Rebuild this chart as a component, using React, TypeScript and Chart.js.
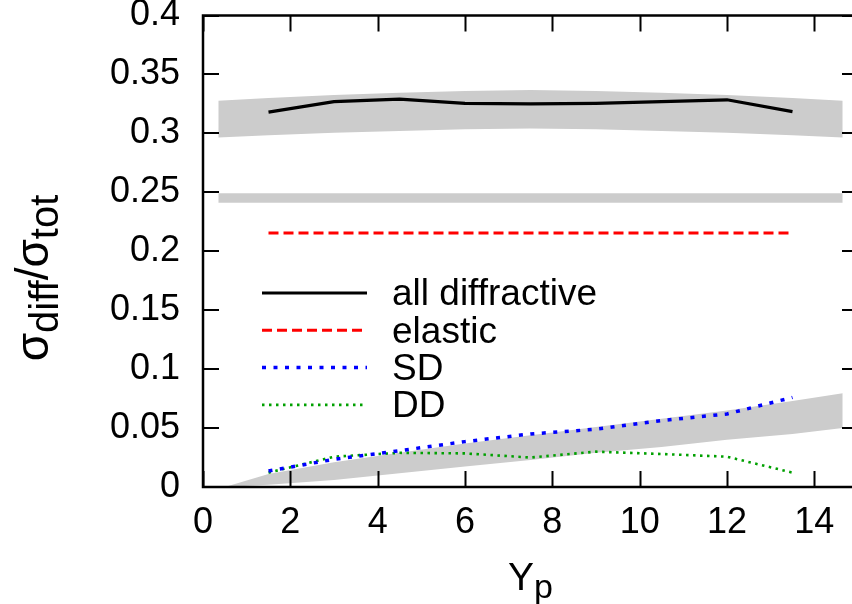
import React, { useEffect, useRef } from 'react';
import { Chart, registerables } from 'chart.js';

Chart.register(...registerables);

// ---- data ----
const xPoints = [1.5, 3, 4.5, 6, 7.5, 9, 10.5, 12, 13.5];
const allDiffractive = [0.318, 0.327, 0.329, 0.3255, 0.325, 0.3255, 0.327, 0.3285, 0.3185];
const elastic = [0.2155, 0.2155, 0.2155, 0.2155, 0.2155, 0.2155, 0.2155, 0.2155, 0.2155];
const sd = [0.0136, 0.0235, 0.0308, 0.0385, 0.045, 0.049, 0.0563, 0.062, 0.076];
const dd = [0.0122, 0.0257, 0.029, 0.0285, 0.025, 0.03, 0.028, 0.0257, 0.0122];

const topBandX = [0.35, 1.5, 3, 4.5, 6, 7.5, 9, 10.5, 12, 13.5, 14.65];
const topBandUpper = [0.3277, 0.33, 0.3325, 0.3345, 0.336, 0.3367, 0.336, 0.3345, 0.3325, 0.33, 0.3277];
const topBandLower = [0.2966, 0.2985, 0.3005, 0.302, 0.3035, 0.3042, 0.3035, 0.302, 0.3005, 0.2985, 0.2966];

const midBandX = [0.35, 14.65];
const midBandUpper = [0.2492, 0.2492];
const midBandLower = [0.2412, 0.2412];

const lowBandX = [0.5, 1.5, 3, 4.5, 6, 7.5, 9, 10.5, 12, 13.5, 14.65];
const lowBandUpper = [0, 0.011, 0.021, 0.029, 0.037, 0.044, 0.051, 0.058, 0.065, 0.073, 0.0795];
const lowBandLower = [0, 0.002, 0.006, 0.0117, 0.0173, 0.023, 0.029, 0.034, 0.04, 0.045, 0.05];

const xTickValues = [0, 2, 4, 6, 8, 10, 12, 14];
const yTickValues = [0, 0.05, 0.1, 0.15, 0.2, 0.25, 0.3, 0.35, 0.4];
const seriesLabels = ['all diffractive', 'elastic', 'SD', 'DD'];

const FONT = '"Liberation Sans", Arial, Helvetica, sans-serif';

const pts = (xs: number[], ys: number[]) => xs.map((x, i) => ({ x, y: ys[i] }));

const overlayPlugin = {
  id: 'overlay',
  afterDraw(chart: any) {
    const { ctx, chartArea: ca, scales } = chart;
    const x = scales.x;
    const y = scales.y;
    ctx.save();
    ctx.strokeStyle = '#000';
    ctx.lineWidth = 2;
    ctx.setLineDash([]);
    const tl = 16;
    ctx.beginPath();
    for (const v of xTickValues) {
      const px = Math.round(x.getPixelForValue(v)) + 0.5;
      ctx.moveTo(px, ca.bottom);
      ctx.lineTo(px, ca.bottom - tl);
      ctx.moveTo(px, ca.top);
      ctx.lineTo(px, ca.top + tl);
    }
    for (const v of yTickValues) {
      const py = Math.round(y.getPixelForValue(v));
      ctx.moveTo(ca.left, py);
      ctx.lineTo(ca.left + tl, py);
      ctx.moveTo(ca.right, py);
      ctx.lineTo(ca.right - tl, py);
    }
    ctx.stroke();
    ctx.lineWidth = 2.5;
    ctx.strokeRect(ca.left, ca.top, ca.right - ca.left, ca.bottom - ca.top);

    // legend
    const lineDatasets = chart.data.datasets.filter((d: any) => seriesLabels.includes(d.label));
    const lx0 = 262;
    const lx1 = 367;
    const tx = 392;
    let ly = 293;
    ctx.textAlign = 'left';
    ctx.textBaseline = 'middle';
    ctx.font = `37px ${FONT}`;
    ctx.fillStyle = '#000';
    for (const ds of lineDatasets) {
      ctx.save();
      ctx.strokeStyle = ds.borderColor;
      ctx.lineWidth = ds.borderWidth;
      ctx.setLineDash(ds.borderDash || []);
      ctx.lineCap = 'butt';
      ctx.beginPath();
      ctx.moveTo(lx0, ly);
      ctx.lineTo(lx1, ly);
      ctx.stroke();
      ctx.restore();
      ctx.fillText(ds.label, tx, ly + 2);
      ly += 37.3;
    }

    const drawRich = (parts: { t: string; size: number; dy: number }[], cx: number, cy: number, rot: number) => {
      ctx.save();
      ctx.translate(cx, cy);
      ctx.rotate(rot);
      ctx.textBaseline = 'alphabetic';
      ctx.textAlign = 'left';
      let total = 0;
      for (const p of parts) {
        ctx.font = `${p.size}px ${FONT}`;
        total += ctx.measureText(p.t).width;
      }
      let cur = -total / 2;
      for (const p of parts) {
        ctx.font = `${p.size}px ${FONT}`;
        ctx.fillText(p.t, cur, p.dy);
        cur += ctx.measureText(p.t).width;
      }
      ctx.restore();
    };
    drawRich(
      [
        { t: 'σ', size: 46, dy: 0 },
        { t: 'diff', size: 40, dy: 10 },
        { t: '/σ', size: 46, dy: 0 },
        { t: 'tot', size: 40, dy: 10 },
      ],
      48,
      278,
      -Math.PI / 2
    );
    drawRich(
      [
        { t: 'Y', size: 39, dy: 0 },
        { t: 'p', size: 34, dy: 8 },
      ],
      (ca.left + ca.right) / 2,
      590,
      0
    );
    ctx.restore();
  },
};

export default function App() {
  const ref = useRef<HTMLCanvasElement | null>(null);
  useEffect(() => {
    document.body.style.margin = '0';
    const canvas = ref.current;
    if (!canvas) return;
    const bandStyle = {
      borderWidth: 0,
      pointRadius: 0,
      backgroundColor: '#cccccc',
      borderColor: 'rgba(0,0,0,0)',
      tension: 0,
      order: 10,
    };
    const chart = new Chart(canvas, {
      type: 'line',
      data: {
        datasets: [
          { ...bandStyle, label: 'band1u', data: pts(topBandX, topBandUpper), fill: '+1' },
          { ...bandStyle, label: 'band1l', data: pts(topBandX, topBandLower), fill: false },
          { ...bandStyle, label: 'band2u', data: pts(midBandX, midBandUpper), fill: '+1' },
          { ...bandStyle, label: 'band2l', data: pts(midBandX, midBandLower), fill: false },
          { ...bandStyle, label: 'band3u', data: pts(lowBandX, lowBandUpper), fill: '+1' },
          { ...bandStyle, label: 'band3l', data: pts(lowBandX, lowBandLower), fill: false },
          {
            label: seriesLabels[0],
            data: pts(xPoints, allDiffractive),
            borderColor: '#000000',
            borderWidth: 3.2,
            pointRadius: 0,
            fill: false,
            order: 1,
          },
          {
            label: seriesLabels[1],
            data: pts(xPoints, elastic),
            borderColor: '#ff0000',
            borderWidth: 3,
            borderDash: [10, 5],
            pointRadius: 0,
            fill: false,
            order: 2,
          },
          {
            label: seriesLabels[2],
            data: pts(xPoints, sd),
            borderColor: '#0000ff',
            borderWidth: 3.5,
            borderDash: [4, 7.5],
            pointRadius: 0,
            fill: false,
            order: 3,
          },
          {
            label: seriesLabels[3],
            data: pts(xPoints, dd),
            borderColor: '#00a000',
            borderWidth: 2.6,
            borderDash: [2.5, 4.5],
            pointRadius: 0,
            fill: false,
            order: 4,
          },
        ],
      },
      options: {
        animation: false,
        responsive: false,
        devicePixelRatio: 1,
        layout: { padding: { left: 0, right: 12, top: 15.5, bottom: 0 } },
        plugins: {
          legend: { display: false },
          tooltip: { enabled: false },
          filler: { propagate: false },
        },
        elements: { line: { borderCapStyle: 'butt', borderJoinStyle: 'miter' } },
        scales: {
          x: {
            type: 'linear',
            min: 0,
            max: 15,
            grid: { display: false, drawTicks: false },
            border: { display: false },
            afterBuildTicks: (scale: any) => {
              scale.ticks = xTickValues.map((v) => ({ value: v }));
            },
            afterFit: (scale: any) => {
              scale.height = 117;
              scale.paddingLeft = 0;
              scale.paddingRight = 0;
            },
            ticks: {
              color: '#000',
              padding: 18,
              maxRotation: 0,
              autoSkip: false,
              font: { family: FONT, size: 36, lineHeight: 1 },
              callback: (v: any) => String(v),
            },
          },
          y: {
            type: 'linear',
            min: 0,
            max: 0.4,
            grid: { display: false, drawTicks: false },
            border: { display: false },
            afterBuildTicks: (scale: any) => {
              scale.ticks = yTickValues.map((v) => ({ value: v }));
            },
            afterFit: (scale: any) => {
              scale.width = 203;
              scale.paddingTop = 0;
              scale.paddingBottom = 0;
            },
            ticks: {
              color: '#000',
              padding: 23,
              autoSkip: false,
              font: { family: FONT, size: 36, lineHeight: 1 },
              callback: (v: any) => String(Math.round(v * 100) / 100),
            },
          },
        },
      },
      plugins: [overlayPlugin],
    } as any);
    return () => chart.destroy();
  }, []);
  return (
    <div style={{ width: 852, height: 604, overflow: 'hidden', position: 'relative' }}>
      <canvas ref={ref} width={870} height={604} style={{ display: 'block' }} />
    </div>
  );
}
